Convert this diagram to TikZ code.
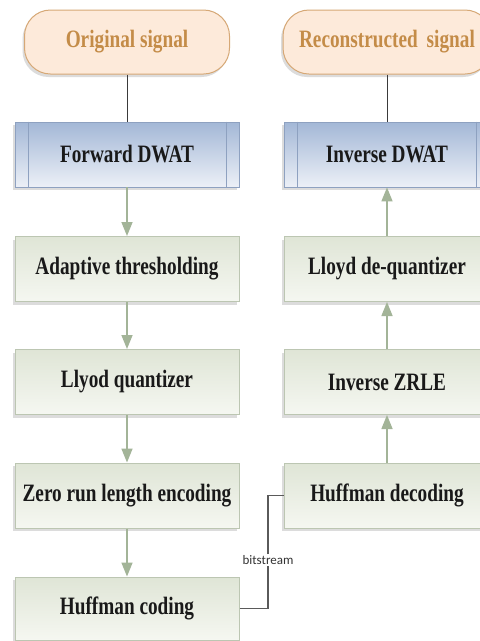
\documentclass[tikz,border=0pt]{standalone}
\usepackage{fontspec}
\usepackage{xcolor}
\usepackage{tikz}
\usetikzlibrary{arrows.meta,shadows}
\newfontfamily\boxfont[FakeStretch=0.77]{Liberation Serif}
\newfontfamily\tagfont{Carlito}
\definecolor{figline}{RGB}{58,58,58}
\definecolor{figlink}{RGB}{90,90,90}
\definecolor{termfill}{RGB}{253,234,218}
\definecolor{termdraw}{RGB}{214,168,118}
\definecolor{termtext}{RGB}{196,140,72}
\definecolor{wavtop}{RGB}{163,183,214}
\definecolor{wavbot}{RGB}{236,240,247}
\definecolor{wavdraw}{RGB}{142,161,192}
\definecolor{proctop}{RGB}{223,229,214}
\definecolor{procbot}{RGB}{245,247,241}
\definecolor{procdraw}{RGB}{188,198,178}
\definecolor{figarrow}{RGB}{163,180,152}
\tikzset{
  boxtxt/.style ={font=\boxfont\bfseries\fontsize{25}{28}\selectfont, inner sep=0pt},
  shad/.style   ={drop shadow={shadow xshift=-2pt, shadow yshift=-3pt, fill=black!45, opacity=0.3}},
  term/.style   ={boxtxt, shad, draw=termdraw, line width=1pt, fill=termfill, text=termtext,
                  rounded corners=26pt, minimum height=64pt},
  wav/.style    ={boxtxt, shad, draw=wavdraw, line width=0.8pt, top color=wavtop, bottom color=wavbot,
                  text=black!90, minimum height=65pt},
  proc/.style   ={boxtxt, shad, draw=procdraw, line width=1pt, top color=proctop, bottom color=procbot,
                  text=black!90, minimum height=65pt},
  bar/.style    ={draw=wavdraw, line width=0.8pt},
  stem/.style   ={draw=figline, line width=1pt},
  flow/.style   ={draw=figarrow, line width=1.5pt, -{Triangle[length=14pt,width=11pt]}},
  link/.style   ={draw=figlink, line width=1.8pt},
  tag/.style    ={font=\tagfont\fontsize{13}{15}\selectfont, text=black!80, inner sep=1pt},
}

\begin{document}
\begin{tikzpicture}[x=1pt,y=-1pt]
  \useasboundingbox (0,0) rectangle (480,641);
  \clip (0,0) rectangle (480,641);
  \fill[white] (0,0) rectangle (480,641);
  % left column
  \node[term, minimum width=205pt] (orig) at (127,42) {Original signal};
  \node[wav, minimum width=224pt] (fdwat) at (127,154.5) {Forward DWAT};
  \node[proc, minimum width=224pt] (adapt) at (127,269) {Adaptive thresholding};
  \node[proc, minimum width=224pt] (lquant) at (127,382) {Llyod quantizer};
  \node[proc, minimum width=224pt] (zrle) at (127,495.5) {Zero run length encoding};
  \node[proc, minimum width=224pt, minimum height=63pt] (hcod) at (127,608.5) {Huffman coding};
  % right column
  \node[term, minimum width=208pt] (recon) at (387,42) {Reconstructed\, signal};
  \node[wav, minimum width=206pt] (idwat) at (387,154.5) {Inverse DWAT};
  \node[proc, minimum width=206pt] (ldquant) at (387,269) {Lloyd de-quantizer};
  \node[proc, minimum width=206pt] (izrle) at (387,382) {Inverse ZRLE};
  \node[proc, minimum width=206pt] (hdec) at (387,495.5) {Huffman decoding};
  % side bars of the wavelet boxes
  \draw[bar] ([xshift=14pt]fdwat.north west) -- ([xshift=14pt]fdwat.south west);
  \draw[bar] ([xshift=-13pt]fdwat.north east) -- ([xshift=-13pt]fdwat.south east);
  \draw[bar] ([xshift=14pt]idwat.north west) -- ([xshift=14pt]idwat.south west);
  \draw[bar] ([xshift=-14pt]idwat.north east) -- ([xshift=-14pt]idwat.south east);
  % connectors
  \draw[stem] (orig) -- (fdwat);
  \draw[stem] (recon) -- (idwat);
  \draw[flow] (fdwat) -- (adapt);
  \draw[flow] (adapt) -- (lquant);
  \draw[flow] (lquant) -- (zrle);
  \draw[flow] (zrle) -- (hcod);
  \draw[flow] (hdec) -- (izrle);
  \draw[flow] (izrle) -- (ldquant);
  \draw[flow] (ldquant) -- (idwat);
  \node[tag] (bits) at (268,560) {bitstream};
  \draw[link] (hcod.east) -| (bits.south);
  \draw[link] (bits.north) |- (hdec.west);
\end{tikzpicture}
\end{document}
